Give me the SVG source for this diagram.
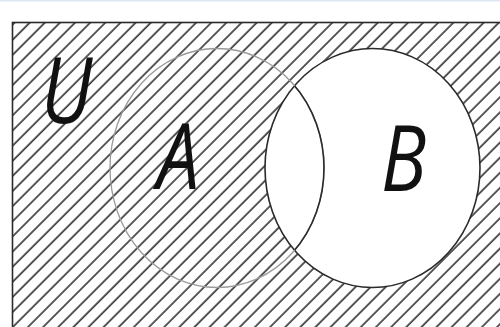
<svg xmlns="http://www.w3.org/2000/svg" width="500" height="327" viewBox="0 0 500 327">
<style>
.lbl{font-family:"Open Sans","Liberation Sans",sans-serif;font-style:italic;font-size:92px;fill:#111}
.bd{fill:none;stroke:#2a2a2a;stroke-width:1.6}
</style>
<defs>
<pattern id="hatch" patternUnits="userSpaceOnUse" width="10.7" height="10.7" patternTransform="rotate(-45)">
<rect x="0" y="4.2" width="10.7" height="1.5" fill="#222"/>
</pattern>
<clipPath id="clipB"><ellipse cx="372.5" cy="168" rx="107.5" ry="119.5"/></clipPath>
</defs>
<rect width="500" height="327" fill="#fff"/>
<rect x="0" y="0" width="500" height="1.5" fill="#dce8f4"/>
<g id="universe">
<rect x="12.5" y="22.5" width="500" height="320" fill="url(#hatch)" stroke="#2a2a2a" stroke-width="1.6"/>
<text class="lbl" transform="translate(41,123) scale(0.82,1)">U</text>
</g>
<g id="setB">
<ellipse cx="372.5" cy="168" rx="107.5" ry="119.5" class="bd" style="fill:#fff"/>
<text class="lbl" transform="translate(381,191) scale(0.82,1)">B</text>
</g>
<g id="setA">
<ellipse cx="217" cy="168" rx="107" ry="119.5" fill="none" stroke="#9a9a9a" stroke-width="1.3"/>
<ellipse cx="217" cy="168" rx="107" ry="119.5" class="bd" clip-path="url(#clipB)"/>
<text class="lbl" transform="translate(157,189) scale(0.82,1)">A</text>
</g>
</svg>
